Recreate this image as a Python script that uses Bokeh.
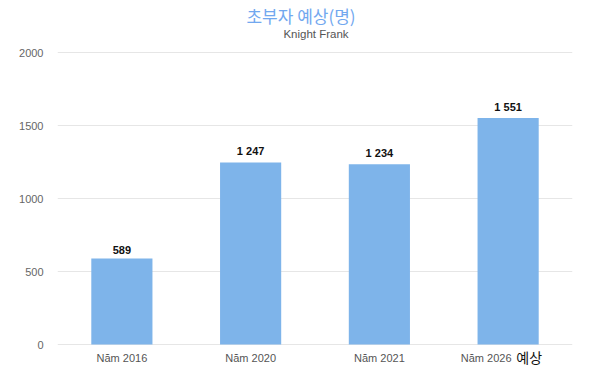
from bokeh.plotting import figure
from bokeh.models import ColumnDataSource, Range1d, FixedTicker, Label
from bokeh.core.properties import value
from bokeh.embed import file_html
from bokeh.resources import INLINE

categories = ["Năm 2016", "Năm 2020", "Năm 2021", "Năm 2026"]
values = [589, 1247, 1234, 1551]
y_ticks = [0, 500, 1000, 1500, 2000]
title_text = "초부자 예상(명)"
subtitle_text = "Knight Frank"
note_text = "예상"

labels = [f"{v:,}".replace(",", " ") for v in values]
src = ColumnDataSource(dict(cat=categories, val=values, lab=labels))

# frame spans the full canvas height: y=2000 at 52 px, y=0 at 344 px from the top
H = 376
px_per_unit = 292 / 2000
y_start = -(H - 344) / px_per_unit
y_end = 2000 + 52 / px_per_unit

p = figure(width=600, height=H, x_range=categories, y_range=Range1d(y_start, y_end),
           output_backend="svg", toolbar_location=None, x_axis_location=None,
           min_border_left=57, min_border_right=28, min_border_top=0, min_border_bottom=0)
p.outline_line_color = None
p.background_fill_color = "white"

p.vbar(x="cat", top="val", width=0.475, source=src, color="#7eb4ea", line_color=None)
p.text(x="cat", y="val", text="lab", source=src, text_align="center", text_baseline="bottom",
       y_offset=-5, text_font=value("Liberation Sans"), text_font_style="bold",
       text_font_size="11px", text_color="#111111")

# category labels (last one is shifted left to make room for the note)
offs = [0] * (len(categories) - 1) + [-22]
p.text(x=categories, y=[0] * len(categories), text=categories, x_offset=offs, y_offset=13,
       text_align="center", text_baseline="middle", text_font=value("Liberation Sans"),
       text_font_size="11px", text_color="#555555")
p.text(x=[categories[-1]], y=[0], text=[note_text], x_offset=21, y_offset=12,
       text_align="center", text_baseline="middle", text_font=value("Noto Sans CJK KR"),
       text_font_size="14px", text_color="#111111")

# title and subtitle (screen units measured from the frame's bottom-left corner)
p.add_layout(Label(x=243.5, y=H - 15, x_units="screen", y_units="screen", text=title_text,
                   text_align="center", text_baseline="middle", text_font="Noto Sans CJK KR",
                   text_font_size="17px", text_color="#72a8ef"))
p.add_layout(Label(x=258.5, y=H - 33, x_units="screen", y_units="screen", text=subtitle_text,
                   text_align="center", text_baseline="middle", text_font="Liberation Sans",
                   text_font_size="11.5px", text_color="#555555"))

p.yaxis.ticker = FixedTicker(ticks=y_ticks)
p.yaxis.axis_line_color = None
p.yaxis.major_tick_line_color = None
p.yaxis.minor_tick_line_color = None
p.yaxis.major_tick_out = 0
p.yaxis.major_label_standoff = 14
p.yaxis.major_label_text_font = "Liberation Sans"
p.yaxis.major_label_text_font_size = "11px"
p.yaxis.major_label_text_color = "#666666"

p.xgrid.grid_line_color = None
p.ygrid.grid_line_color = "#e6e6e6"
p.ygrid.ticker = FixedTicker(ticks=y_ticks)

open("out.html", "w").write(file_html(p, INLINE))
